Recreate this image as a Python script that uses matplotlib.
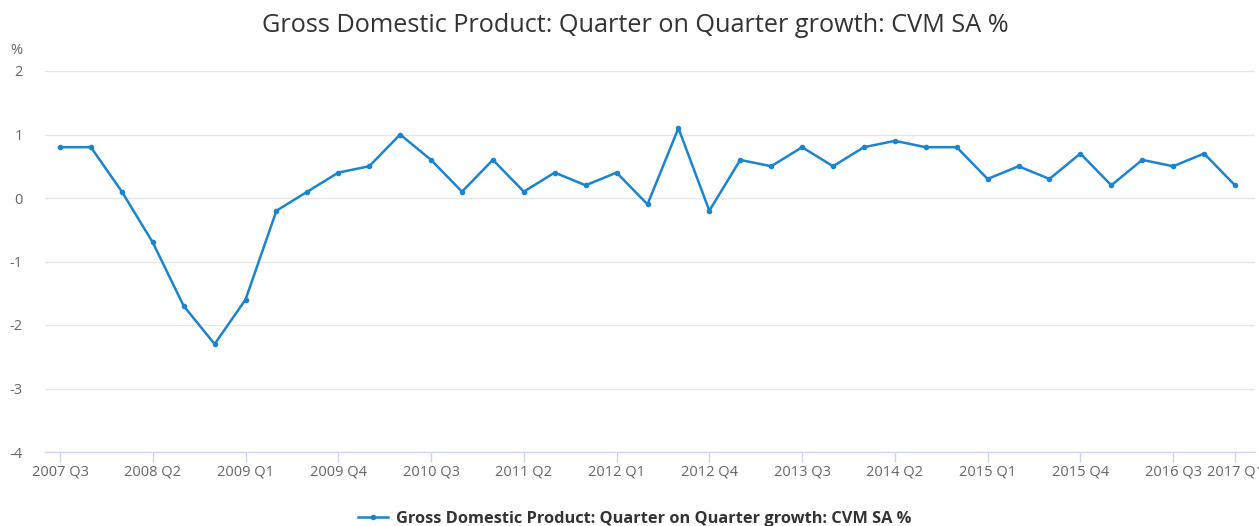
import matplotlib
matplotlib.use("Agg")
import matplotlib.pyplot as plt

quarters = [
    "2007 Q3", "2007 Q4", "2008 Q1", "2008 Q2", "2008 Q3", "2008 Q4",
    "2009 Q1", "2009 Q2", "2009 Q3", "2009 Q4", "2010 Q1", "2010 Q2",
    "2010 Q3", "2010 Q4", "2011 Q1", "2011 Q2", "2011 Q3", "2011 Q4",
    "2012 Q1", "2012 Q2", "2012 Q3", "2012 Q4", "2013 Q1", "2013 Q2",
    "2013 Q3", "2013 Q4", "2014 Q1", "2014 Q2", "2014 Q3", "2014 Q4",
    "2015 Q1", "2015 Q2", "2015 Q3", "2015 Q4", "2016 Q1", "2016 Q2",
    "2016 Q3", "2016 Q4", "2017 Q1",
]
growth = [
    0.8, 0.8, 0.1, -0.7, -1.7, -2.3,
    -1.6, -0.2, 0.1, 0.4, 0.5, 1.0,
    0.6, 0.1, 0.6, 0.1, 0.4, 0.2,
    0.4, -0.1, 1.1, -0.2, 0.6, 0.5,
    0.8, 0.5, 0.8, 0.9, 0.8, 0.8,
    0.3, 0.5, 0.3, 0.7, 0.2, 0.6,
    0.5, 0.7, 0.2,
]
tick_labels = [
    "2007 Q3", "2008 Q2", "2009 Q1", "2009 Q4", "2010 Q3", "2011 Q2",
    "2012 Q1", "2012 Q4", "2013 Q3", "2014 Q2", "2015 Q1", "2015 Q4",
    "2016 Q3", "2017 Q1",
]
y_ticks = [-4, -3, -2, -1, 0, 1, 2]
series_name = "Gross Domestic Product: Quarter on Quarter growth: CVM SA %"
title = "Gross Domestic Product: Quarter on Quarter growth: CVM SA %"

plt.rcParams["font.family"] = ["Open Sans", "DejaVu Sans"]

W, H = 1259, 526
fig = plt.figure(figsize=(W / 100, H / 100), dpi=100)
left, right, top, bottom = 45, 1255, 71, 452
ax = fig.add_axes([left / W, 1 - bottom / H, (right - left) / W, (bottom - top) / H])

x = list(range(len(quarters)))
line_color = "#1a85cd"
ax.plot(x, growth, color=line_color, linewidth=1.8, marker="o", markersize=3,
        label=series_name, zorder=3)

# x range: index 0 at px 60, last at px 1235
ppu = (1235 - 60) / (len(quarters) - 1)
ax.set_xlim(-(60 - left) / ppu, (len(quarters) - 1) + (right - 1235) / ppu)
ax.set_ylim(-4, 2)

tick_pos = [quarters.index(t) for t in tick_labels]
ax.set_xticks(tick_pos)
ax.set_xticklabels(tick_labels, fontsize=10.5, color="#666666")
ax.set_yticks(y_ticks)
ax.set_yticklabels([str(v) for v in y_ticks], fontsize=10.5, color="#666666")
for lbl in ax.get_yticklabels():
    lbl.set_horizontalalignment("right")

ax.tick_params(axis="x", length=7, width=1, color="#ccd6eb", pad=2)
ax.tick_params(axis="y", length=0, pad=16)

for v in y_ticks[1:]:
    ax.axhline(v, color="#e6e6e6", linewidth=1, zorder=1)

for s in ["top", "right", "left"]:
    ax.spines[s].set_visible(False)
ax.spines["bottom"].set_color("#ccd6eb")
ax.spines["bottom"].set_linewidth(1)

fig.text(16 / W, 1 - 50 / H, "%", fontsize=10.5, color="#666666", ha="center", va="center")
fig.text(635 / W, 1 - 26 / H, title, fontsize=18.2, color="#333333", ha="center", va="center")

leg = fig.legend(loc="center", bbox_to_anchor=(635 / W, 1 - 519 / H), frameon=False,
                 prop={"size": 11.8, "weight": "bold"}, handlelength=1.8,
                 handletextpad=0.5, borderpad=0)
for t in leg.get_texts():
    t.set_color("#333333")

fig.savefig("out.png", dpi=100, facecolor="white")
